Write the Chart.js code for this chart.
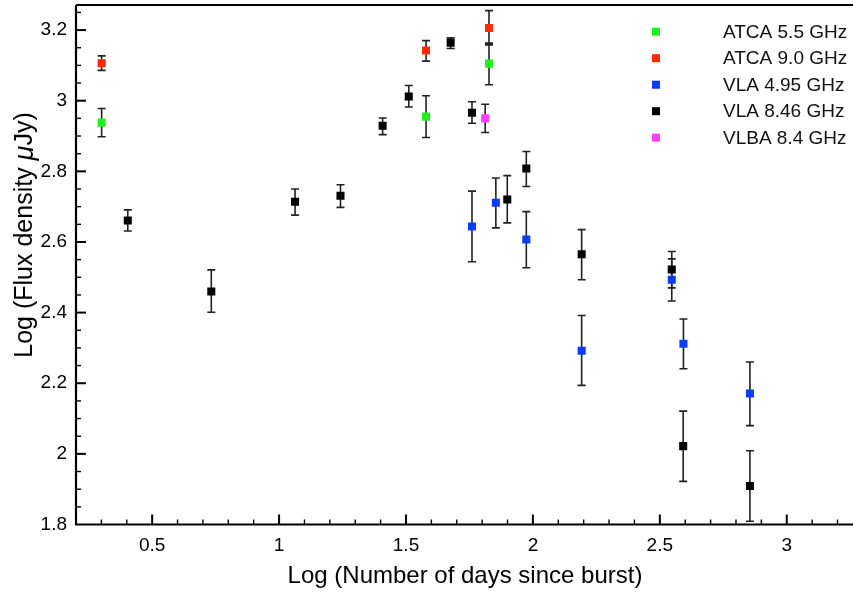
<!DOCTYPE html>
<html>
<head>
<meta charset="utf-8">
<script src="https://cdn.jsdelivr.net/npm/chart.js@4.4.0/dist/chart.umd.min.js"></script>
<style>
  html, body { margin: 0; padding: 0; background: #fff; }
  #wrap { width: 853px; height: 593px; }
</style>
</head>
<body>
<div id="wrap"><canvas id="chart" width="853" height="593"></canvas></div>
<script>
// ─── Data (log days, log flux, error bar low / high) ─────────────────────────

const atca55X  = [0.301, 1.579, 1.827];
const atca55Y  = [2.938, 2.955, 3.105];
const atca55Lo = [2.898, 2.896, 3.045];
const atca55Hi = [2.978, 3.014, 3.158];

const atca90X  = [0.301, 1.579, 1.827];
const atca90Y  = [3.106, 3.142, 3.206];
const atca90Lo = [3.086, 3.112, 3.163];
const atca90Hi = [3.127, 3.170, 3.255];

const vla495X  = [1.760, 1.854, 1.974, 2.192, 2.547, 2.593, 2.855];
const vla495Y  = [2.644, 2.711, 2.607, 2.292, 2.493, 2.312, 2.171];
const vla495Lo = [2.544, 2.640, 2.527, 2.194, 2.433, 2.241, 2.080];
const vla495Hi = [2.744, 2.781, 2.686, 2.392, 2.552, 2.382, 2.260];

const vla846X  = [0.404, 0.733, 1.063, 1.242, 1.408, 1.511, 1.676, 1.760, 1.899, 1.974, 2.192, 2.547, 2.592, 2.855];
const vla846Y  = [2.661, 2.460, 2.714, 2.731, 2.929, 3.012, 3.164, 2.966, 2.720, 2.808, 2.565, 2.522, 2.022, 1.909];
const vla846Lo = [2.631, 2.401, 2.676, 2.698, 2.904, 2.982, 3.148, 2.936, 2.654, 2.757, 2.493, 2.470, 1.922, 1.809];
const vla846Hi = [2.691, 2.521, 2.750, 2.762, 2.951, 3.043, 3.178, 2.997, 2.788, 2.856, 2.635, 2.573, 2.121, 2.009];

const vlba84X  = [1.812];
const vlba84Y  = [2.950];
const vlba84Lo = [2.910];
const vlba84Hi = [2.990];

const xTicks = [0.5, 1, 1.5, 2, 2.5, 3];
const yTicks = [1.8, 2, 2.2, 2.4, 2.6, 2.8, 3, 3.2];

const FONT = '"Liberation Sans", Arial, Helvetica, sans-serif';

// ─── Datasets ────────────────────────────────────────────────────────────────

function series(label, color, xs, ys, lo, hi) {
  return {
    label,
    data: xs.map((x, i) => ({ x, y: ys[i] })),
    errLo: lo,
    errHi: hi,
    backgroundColor: color,
    borderColor: color,
    borderWidth: 0,
    pointStyle: "rect",
    pointRadius: 5.7,
    pointHoverRadius: 5.7,
    showLine: false,
  };
}

const datasets = [
  series("ATCA 5.5 GHz", "#1ef01e", atca55X, atca55Y, atca55Lo, atca55Hi),
  series("ATCA 9.0 GHz", "#ff2a00", atca90X, atca90Y, atca90Lo, atca90Hi),
  series("VLA 4.95 GHz", "#0a3cff", vla495X, vla495Y, vla495Lo, vla495Hi),
  series("VLA 8.46 GHz", "#000000", vla846X, vla846Y, vla846Lo, vla846Hi),
  series("VLBA 8.4 GHz", "#ff40ff", vlba84X, vlba84Y, vlba84Lo, vlba84Hi),
];

// ─── Error bars (behind the markers) ─────────────────────────────────────────

const errorBars = {
  id: "errorBars",
  beforeDatasetsDraw(chart) {
    const { ctx, scales: { x, y } } = chart;
    ctx.save();
    ctx.strokeStyle = "#222";
    ctx.lineWidth = 1.6;
    chart.data.datasets.forEach((ds) => {
      ds.data.forEach((p, i) => {
        const px = x.getPixelForValue(p.x);
        const yl = y.getPixelForValue(ds.errLo[i]);
        const yh = y.getPixelForValue(ds.errHi[i]);
        ctx.beginPath();
        ctx.moveTo(px, yl); ctx.lineTo(px, yh);
        ctx.moveTo(px - 4, yl); ctx.lineTo(px + 4, yl);
        ctx.moveTo(px - 4, yh); ctx.lineTo(px + 4, yh);
        ctx.stroke();
      });
    });
    ctx.restore();
  },
};

// ─── Frame, inward ticks, titles, legend ─────────────────────────────────────

const frame = {
  id: "frame",
  afterDraw(chart) {
    const { ctx, chartArea: a, scales: { x, y } } = chart;
    ctx.save();
    ctx.strokeStyle = "#000";

    // axes + top border
    ctx.lineWidth = 2.2;
    ctx.beginPath();
    ctx.moveTo(a.left, a.top); ctx.lineTo(a.right, a.top);
    ctx.moveTo(a.left, a.top); ctx.lineTo(a.left, a.bottom);
    ctx.lineTo(a.right, a.bottom);
    ctx.stroke();

    // x ticks
    for (let v = 0.3; v < x.max; v += 0.1) {
      const major = Math.abs(v * 2 - Math.round(v * 2)) < 1e-6;
      const px = x.getPixelForValue(v);
      ctx.lineWidth = major ? 2 : 1.4;
      ctx.beginPath();
      ctx.moveTo(px, a.bottom);
      ctx.lineTo(px, a.bottom - (major ? 10 : 5));
      ctx.stroke();
    }
    // y ticks
    for (let v = 1.85; v < y.max; v += 0.05) {
      const major = Math.abs(v * 5 - Math.round(v * 5)) < 1e-6;
      const py = y.getPixelForValue(v);
      ctx.lineWidth = major ? 2 : 1.4;
      ctx.beginPath();
      ctx.moveTo(a.left, py);
      ctx.lineTo(a.left + (major ? 10 : 5), py);
      ctx.stroke();
    }

    // axis titles
    ctx.fillStyle = "#000";
    ctx.textBaseline = "middle";
    ctx.textAlign = "center";
    ctx.font = "24px " + FONT;
    ctx.fillText("Log (Number of days since burst)", 465, 576);

    ctx.translate(25, 235);
    ctx.rotate(-Math.PI / 2);
    const parts = [
      ["Log (Flux density ", "25px " + FONT],
      ["\u03bc", "italic 27px " + FONT],
      ["Jy)", "25px " + FONT],
    ];
    let total = 0;
    parts.forEach(([t, f]) => { ctx.font = f; total += ctx.measureText(t).width; });
    let cx = -total / 2;
    ctx.textAlign = "left";
    parts.forEach(([t, f]) => {
      ctx.font = f;
      ctx.fillText(t, cx, 0);
      cx += ctx.measureText(t).width;
    });
    ctx.setTransform(1, 0, 0, 1, 0, 0);

    // legend
    ctx.font = "19px " + FONT;
    ctx.textAlign = "left";
    chart.data.datasets.forEach((ds, i) => {
      const ry = 31.7 + i * 26.5;
      ctx.fillStyle = ds.backgroundColor;
      ctx.fillRect(652, ry - 4, 8, 8);
      ctx.fillStyle = "#111";
      ctx.fillText(ds.label, 723, ry + 1);
    });
    ctx.restore();
  },
};

// ─── Chart ───────────────────────────────────────────────────────────────────

new Chart(document.getElementById("chart"), {
  type: "scatter",
  data: { datasets },
  plugins: [errorBars, frame],
  options: {
    responsive: false,
    devicePixelRatio: 1,
    animation: false,
    layout: { autoPadding: false, padding: { top: 5, left: 0, right: 0, bottom: 0 } },
    plugins: {
      legend: { display: false },
      tooltip: { enabled: false },
    },
    scales: {
      x: {
        type: "linear",
        min: 0.2,
        max: 3.261,
        grid: { display: false, drawTicks: false },
        border: { display: false },
        afterBuildTicks: (s) => { s.ticks = xTicks.map((v) => ({ value: v })); },
        afterFit: (s) => {
          s.height = 68.5;
          s.paddingLeft = 0;
          s.paddingRight = 0;
        },
        ticks: {
          padding: 10,
          maxRotation: 0,
          color: "#000",
          font: { family: FONT, size: 19 },
          callback: (v) => String(v),
        },
      },
      y: {
        type: "linear",
        min: 1.8,
        max: 3.271,
        grid: { display: false, drawTicks: false },
        border: { display: false },
        afterBuildTicks: (s) => { s.ticks = yTicks.map((v) => ({ value: v })); },
        afterFit: (s) => {
          s.width = 76;
          s.paddingTop = 0;
          s.paddingBottom = 0;
        },
        ticks: {
          padding: 9,
          color: "#000",
          font: { family: FONT, size: 19 },
          callback: (v) => String(v),
        },
      },
    },
  },
});
</script>
</body>
</html>
